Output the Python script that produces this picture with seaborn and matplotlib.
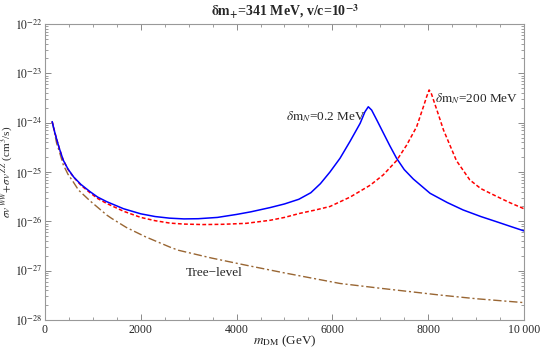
import numpy as np
import pandas as pd
import matplotlib
matplotlib.use("Agg")
import matplotlib.pyplot as plt
from matplotlib.ticker import FixedLocator, LogLocator, NullFormatter, MultipleLocator
import seaborn as sns

# Данные (m_DM в ГэВ, sigma v в см^3/с)
m_blue = [150, 200, 250, 300, 380, 480, 600, 750, 940, 1100, 1290, 1640, 2000, 2300,
          2600, 2900, 3200, 3600, 4000, 4300, 4700, 5000, 5300, 5550, 5750, 5950,
          6160, 6370, 6580, 6680, 6750, 6820, 6930, 7060, 7200, 7340, 7500, 7690,
          8040, 8400, 8730, 9100, 9430, 9700, 10000]
sv_blue = [1.05e-24, 6.6e-25, 4.4e-25, 3.0e-25, 1.75e-25, 1.15e-25, 7.9e-26, 5.6e-26,
           4.0e-26, 3.1e-26, 2.5e-26, 1.8e-26, 1.42e-26, 1.25e-26, 1.16e-26, 1.12e-26,
           1.13e-26, 1.2e-26, 1.38e-26, 1.56e-26, 1.9e-26, 2.25e-26, 2.8e-26, 3.8e-26,
           5.8e-26, 1.0e-25, 1.9e-25, 4.2e-25, 9.7e-25, 1.66e-24, 2.1e-24, 1.8e-24,
           1.12e-24, 6.3e-25, 3.4e-25, 1.9e-25, 1.12e-25, 7.2e-26, 3.7e-26, 2.4e-26,
           1.7e-26, 1.25e-26, 9.8e-27, 8.0e-27, 6.4e-27]

m_red = [150, 200, 250, 300, 380, 480, 600, 750, 940, 1100, 1290, 1640, 2000, 2300,
         2610, 2900, 3300, 3700, 4200, 4700, 5000, 5320, 5650, 5950, 6370, 6790, 7060,
         7340, 7550, 7760, 7900, 7970, 8020, 8070, 8110, 8200, 8320, 8590, 8870, 9100,
         9430, 9700, 10000]
sv_red = [1.05e-24, 6.6e-25, 4.4e-25, 3.0e-25, 1.75e-25, 1.13e-25, 7.8e-26, 5.4e-26,
          3.8e-26, 2.9e-26, 2.3e-26, 1.6e-26, 1.2e-26, 1.03e-26, 9.2e-27, 8.8e-27,
          8.6e-27, 8.7e-27, 9.1e-27, 1.05e-26, 1.2e-26, 1.45e-26, 1.7e-26, 2.0e-26,
          3.1e-26, 5.4e-26, 8.7e-26, 1.7e-25, 3.5e-25, 8.3e-25, 2.1e-24, 3.4e-24,
          4.6e-24, 3.8e-24, 2.9e-24, 1.6e-24, 7.1e-25, 1.7e-25, 6.9e-26, 4.6e-26,
          3.2e-26, 2.4e-26, 1.8e-26]

m_tree = [150, 200, 244, 300, 382, 480, 590, 700, 940, 1290, 1390, 1700, 2090, 2610,
          2780, 3480, 4180, 5000, 6160, 7000, 8250, 9000, 10000]
sv_tree = [1.05e-24, 6.2e-25, 3.8e-25, 2.6e-25, 1.4e-25, 9.0e-26, 6.3e-26, 4.3e-26,
           2.6e-26, 1.34e-26, 1.15e-26, 7.5e-27, 4.9e-27, 3.0e-27, 2.6e-27, 1.8e-27,
           1.3e-27, 9.0e-28, 5.5e-28, 4.4e-28, 3.2e-28, 2.7e-28, 2.25e-28]

x_ticks = [0, 2000, 4000, 6000, 8000, 10000]
x_tick_labels = ["0", "2000", "4000", "6000", "8000", "10\u2009000"]
y_ticks = [1e-28, 1e-27, 1e-26, 1e-25, 1e-24, 1e-23, 1e-22]
y_tick_labels = [r"$10^{-28}$", r"$10^{-27}$", r"$10^{-26}$", r"$10^{-25}$",
                 r"$10^{-24}$", r"$10^{-23}$", r"$10^{-22}$"]

sns.set_theme(style="ticks")
plt.rcParams["font.family"] = ["Liberation Serif", "DejaVu Serif"]
plt.rcParams["mathtext.fontset"] = "stix"

df_blue = pd.DataFrame({"m": m_blue, "sv": sv_blue})
df_red = pd.DataFrame({"m": m_red, "sv": sv_red})
df_tree = pd.DataFrame({"m": m_tree, "sv": sv_tree})

fig = plt.figure(figsize=(5.4, 3.53), dpi=100)
ax = fig.add_axes([0.0833, 0.0935, 0.8870, 0.8385])

brown = (0.6, 0.4, 0.2)
sns.lineplot(data=df_tree, x="m", y="sv", ax=ax, color=brown, lw=1.0,
             sort=False, estimator=None)
ax.lines[-1].set_dashes([6, 2, 1.5, 2])
sns.lineplot(data=df_red, x="m", y="sv", ax=ax, color="red", lw=1.1,
             sort=False, estimator=None)
ax.lines[-1].set_dashes([2.5, 1.5])
sns.lineplot(data=df_blue, x="m", y="sv", ax=ax, color="blue", lw=1.1,
             sort=False, estimator=None)

ax.set_yscale("log")
ax.set_xlim(0, 10000)
ax.set_ylim(1e-28, 1e-22)

ax.set_xticks(x_ticks)
ax.set_xticklabels(x_tick_labels, fontsize=8.5)
ax.xaxis.set_minor_locator(MultipleLocator(500))
ax.yaxis.set_major_locator(FixedLocator(y_ticks))
ax.set_yticklabels(y_tick_labels, fontsize=8.5)
ax.yaxis.set_minor_locator(LogLocator(base=10, subs=np.arange(2, 10), numticks=20))
ax.yaxis.set_minor_formatter(NullFormatter())

ax.tick_params(which="both", direction="in", top=True, right=True, color="#777777")
ax.tick_params(axis="x", pad=3)
ax.tick_params(axis="y", pad=2)
ax.tick_params(which="major", length=4, width=0.6)
ax.tick_params(which="minor", length=2, width=0.5)
for sp in ax.spines.values():
    sp.set_color("#999999")
    sp.set_linewidth(0.8)

ax.set_xlabel(r"$m_{\rm DM}$ (GeV)", fontsize=9.5, labelpad=-2)
ax.set_ylabel(r"$\sigma v^{\,WW}\!+\!\sigma v^{\,ZZ}$ (cm$^3$/s)", fontsize=8)
ax.yaxis.set_label_coords(-0.062, 0.5)
ax.set_title(r"$\mathbf{\delta m_{+}}$=341 MeV, v/c=10$^{\mathbf{-3}}$",
             fontsize=10, fontweight="bold", pad=6)

ax.text(6700, 1.9e-24, r"$\delta\mathrm{m}_{N}$=0.2 MeV", fontsize=9.5,
        ha="right", va="top")
ax.text(8150, 4.3e-24, r"$\delta\mathrm{m}_{N}$=200 MeV", fontsize=9.5,
        ha="left", va="top")
ax.text(3540, 9.0e-28, "Tree\u2212level", fontsize=9.5, ha="center", va="center")

fig.savefig("out.png", dpi=100)
